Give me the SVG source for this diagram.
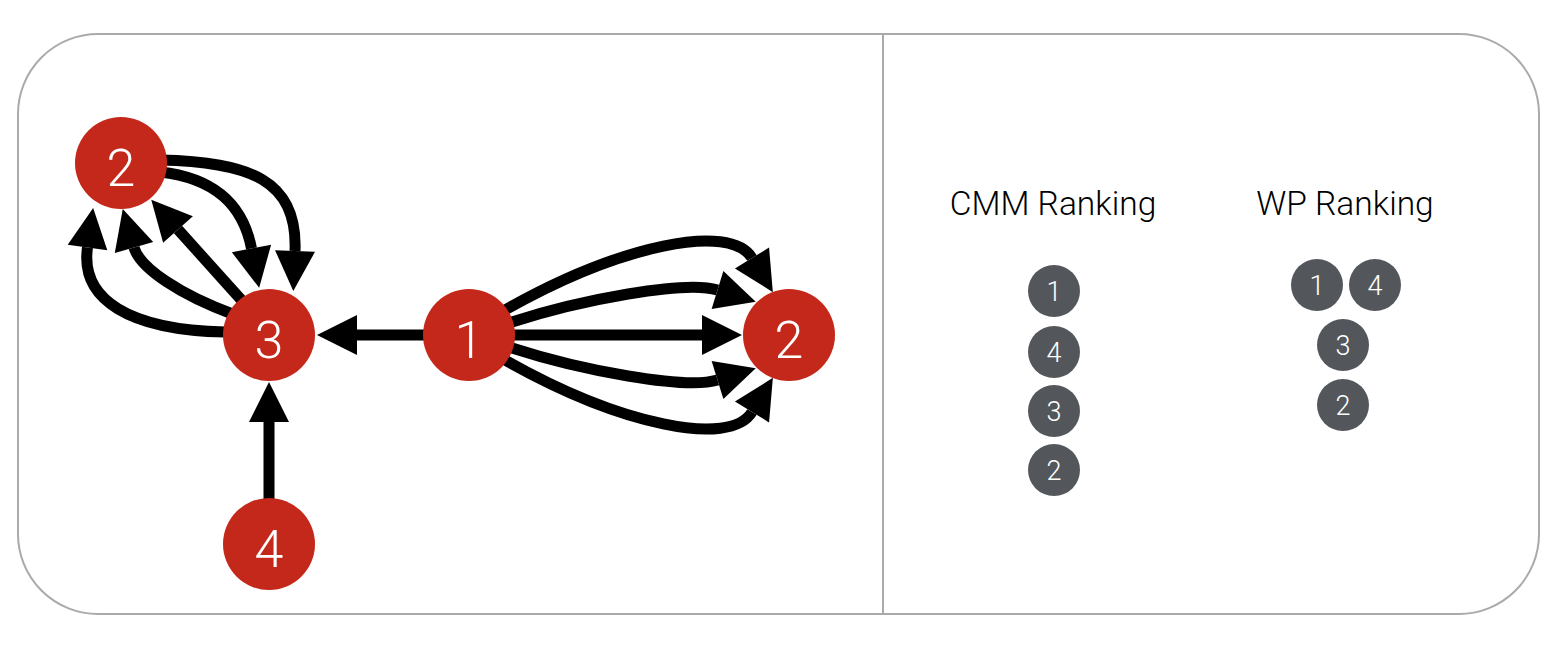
<svg xmlns="http://www.w3.org/2000/svg" width="1568" height="648" viewBox="0 0 1568 648">
<style>
.frame{fill:#fff;stroke:#aaaaaa;stroke-width:2}
.div{stroke:#aaaaaa;stroke-width:2}
.e{fill:none;stroke:#000;stroke-width:11;marker-end:url(#ah)}
.n{fill:#c4281a}
.g{fill:#53575c}
.nt{fill:#fff;font-family:Roboto,"Liberation Sans",sans-serif;font-weight:300;font-size:52px;text-anchor:middle}
.gt{fill:#fff;font-family:Roboto,"Liberation Sans",sans-serif;font-weight:300;font-size:27px;text-anchor:middle}
.title{fill:#000;font-family:Roboto,"Liberation Sans",sans-serif;font-weight:300;font-size:33.5px;text-anchor:middle}
</style>
<defs>
<marker id="ah" markerUnits="userSpaceOnUse" markerWidth="40" markerHeight="40" refX="0" refY="20" orient="auto" overflow="visible">
<path d="M0,0 L40,20 L0,40 Z" fill="#000"/>
</marker>
</defs>
<rect class="frame" x="18" y="34" width="1521" height="580" rx="80" ry="80"/>
<line class="div" x1="883" y1="34" x2="883" y2="614"/>
<g id="connectors">
<path class="e" d="M469,335 L357,335"/>
<path class="e" d="M269,544 L269,422"/>
<path class="e" d="M469,335 L702,335"/>
<path class="e" d="M505,310 C620,245 730,222 752,258"/>
<path class="e" d="M512,322 C580,300 685,280 717.5,290"/>
<path class="e" d="M512,348 C580,370 685,390 717.5,380"/>
<path class="e" d="M505,360 C620,425 730,448 752,412"/>
<path class="e" d="M160,160 C250,162 298,180 295,251"/>
<path class="e" d="M160,172 C215,178 243,205 251.5,248.5"/>
<path class="e" d="M245,304 L178,229.5"/>
<path class="e" d="M235,315 C180,295 140,268 134,247.5"/>
<path class="e" d="M225,332 C130,330 80,300 87.5,247.5"/>
</g>
<g id="node-2a"><circle class="n" cx="121" cy="163" r="46"/><text class="nt" x="121" y="186">2</text></g>
<g id="node-3"><circle class="n" cx="269" cy="335" r="46"/><text class="nt" x="269" y="358">3</text></g>
<g id="node-1"><circle class="n" cx="469" cy="335" r="46"/><text class="nt" x="469" y="358">1</text></g>
<g id="node-2b"><circle class="n" cx="789" cy="335" r="46"/><text class="nt" x="789" y="358">2</text></g>
<g id="node-4"><circle class="n" cx="269" cy="544" r="46"/><text class="nt" x="269" y="567">4</text></g>
<g id="cmm-ranking">
<text class="title" x="1053" y="215">CMM Ranking</text>
<g id="cmm-1"><circle class="g" cx="1054" cy="291" r="26"/><text class="gt" x="1054" y="301">1</text></g>
<g id="cmm-4"><circle class="g" cx="1054" cy="352" r="26"/><text class="gt" x="1054" y="362">4</text></g>
<g id="cmm-3"><circle class="g" cx="1054" cy="411" r="26"/><text class="gt" x="1054" y="421">3</text></g>
<g id="cmm-2"><circle class="g" cx="1054" cy="470" r="26"/><text class="gt" x="1054" y="480">2</text></g>
</g>
<g id="wp-ranking">
<text class="title" x="1345" y="215">WP Ranking</text>
<g id="wp-1"><circle class="g" cx="1317" cy="285" r="26"/><text class="gt" x="1317" y="295">1</text></g>
<g id="wp-4"><circle class="g" cx="1375" cy="285" r="26"/><text class="gt" x="1375" y="295">4</text></g>
<g id="wp-3"><circle class="g" cx="1343" cy="345" r="26"/><text class="gt" x="1343" y="355">3</text></g>
<g id="wp-2"><circle class="g" cx="1343" cy="405" r="26"/><text class="gt" x="1343" y="415">2</text></g>
</g>
</svg>
